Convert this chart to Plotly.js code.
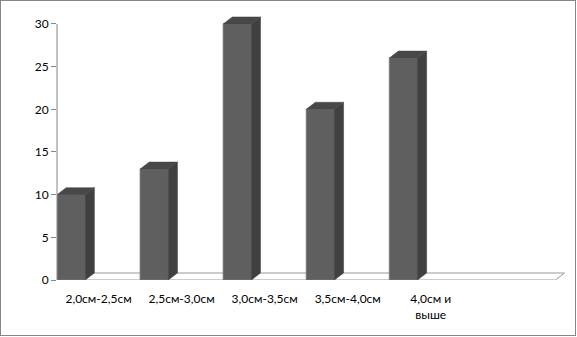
<!DOCTYPE html>
<html><head><meta charset="utf-8">
<script src="https://cdn.plot.ly/plotly-3.0.1.min.js"></script>
<style>
html,body{margin:0;padding:0;background:#fff;}
#wrap{position:relative;width:577px;height:337px;}
#chart{position:absolute;left:0;top:0;width:577px;height:337px;}
#frame{position:absolute;left:0;top:0;width:576px;height:336px;box-sizing:border-box;border:1px solid #868686;pointer-events:none;}
</style></head>
<body>
<div id="wrap"><div id="chart"></div><div id="frame"></div></div>
<script>
const categories = ["2,0см-2,5см", "2,5см-3,0см", "3,0см-3,5см", "3,5см-4,0см", "4,0см и<br>выше"];
const values = [10, 13, 30, 20, 26];
const yTicks = [0, 5, 10, 15, 20, 25, 30];

const slots = 6;          // category slots on the floor
const faceW = 0.34;       // front-face width in slot units
const depthX = 0.11;      // 3D depth offset (x, slot units)
const depthY = 0.82;      // 3D depth offset (y, value units)

const xs = values.map((v, i) => i + faceW / 2);

const shapes = [];
// floor
shapes.push({
  type: 'path', xref: 'x', yref: 'y', layer: 'below',
  path: `M0,0 L${slots},0 L${slots + depthX},${depthY} L${depthX},${depthY} Z`,
  fillcolor: '#ffffff', line: {color: '#9a9a9a', width: 1}
});
// sides and tops
values.forEach((v, i) => {
  const x0 = i, x1 = i + faceW;
  shapes.push({
    type: 'path', xref: 'x', yref: 'y', layer: 'above',
    path: `M${x1},0 L${x1 + depthX},${depthY} L${x1 + depthX},${v + depthY} L${x1},${v} Z`,
    fillcolor: '#404040', line: {color: '#3a3a3a', width: 0.5}
  });
  shapes.push({
    type: 'path', xref: 'x', yref: 'y', layer: 'above',
    path: `M${x0},${v} L${x0 + depthX},${v + depthY} L${x1 + depthX},${v + depthY} L${x1},${v} Z`,
    fillcolor: '#484848', line: {color: '#444444', width: 0.5}
  });
});
// y axis line
shapes.push({
  type: 'line', xref: 'paper', yref: 'y', x0: 0, x1: 0, y0: 0, y1: yTicks[yTicks.length - 1],
  line: {color: '#868686', width: 1}
});

const trace = {
  type: 'bar', x: xs, y: values, width: faceW,
  marker: {color: '#5f5f5f', line: {color: '#7a7a7a', width: 0.8}},
  hoverinfo: 'skip'
};

const layout = {
  width: 577, height: 337,
  margin: {l: 57, r: 10, t: 15, b: 57},
  paper_bgcolor: 'rgba(0,0,0,0)', plot_bgcolor: 'rgba(0,0,0,0)',
  showlegend: false,
  font: {family: 'Lato, "Open Sans", sans-serif', size: 12, color: '#000'},
  xaxis: {
    range: [0, slots + depthX + 0.03], showgrid: false, zeroline: false, showline: false,
    tickmode: 'array', tickvals: categories.map((c, i) => i + 0.5), ticktext: categories,
    ticks: '', tickangle: 0, ticklabelstandoff: 10, fixedrange: true
  },
  yaxis: {
    range: [0, 31.05], showgrid: false, zeroline: false, showline: false,
    tickmode: 'array', tickvals: yTicks, ticks: 'outside', ticklen: 5,
    tickcolor: '#868686', tickwidth: 1, fixedrange: true
  },
  shapes: shapes,
  bargap: 0
};

Plotly.newPlot('chart', [trace], layout, {staticPlot: true, displayModeBar: false});
</script>
</body></html>
